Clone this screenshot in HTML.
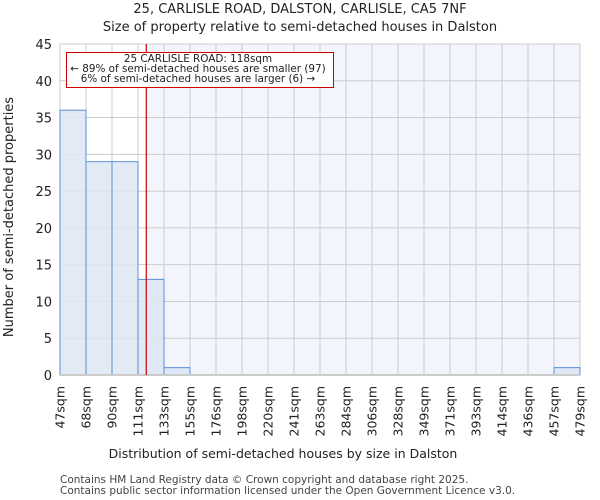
<!DOCTYPE html>
<html><head><meta charset="utf-8"><style>
body{margin:0;background:#fff;font-family:"DejaVu Sans","Liberation Sans",sans-serif}
svg{display:block}
</style></head><body>
<svg id="chart" width="600" height="500" xmlns="http://www.w3.org/2000/svg">
<text x="300" y="13" text-anchor="middle" font-size="13" fill="#222">25, CARLISLE ROAD, DALSTON, CARLISLE, CA5 7NF</text>
<text x="300" y="31" text-anchor="middle" font-size="13" fill="#222">Size of property relative to semi-detached houses in Dalston</text>
<g id="plot"></g>
<text x="283" y="458" text-anchor="middle" font-size="12.5" fill="#222">Distribution of semi-detached houses by size in Dalston</text>
<text transform="translate(13,217) rotate(-90)" text-anchor="middle" font-size="13" fill="#222">Number of semi-detached properties</text>
<text x="60" y="483" font-size="10.5" fill="#444">Contains HM Land Registry data © Crown copyright and database right 2025.</text>
<text x="60" y="494" font-size="10.5" fill="#444">Contains public sector information licensed under the Open Government Licence v3.0.</text>
</svg>
<script>
const binEdges=[47,68,90,111,133,155,176,198,220,241,263,284,306,328,349,371,393,414,436,457,479];
const counts=[36,29,29,13,1,0,0,0,0,0,0,0,0,0,0,0,0,0,0,1];
const yTicks=[0,5,10,15,20,25,30,35,40,45];
const subjectSize=118;
const NS="http://www.w3.org/2000/svg";
const g=document.getElementById('plot');
const L=60,R=580,T=44,B=375,YMAX=45;
const nb=counts.length;
function xIdx(i){return L+(R-L)*i/nb;}
function xVal(v){for(let i=0;i<binEdges.length-1;i++){if(v<=binEdges[i+1]){return xIdx(i)+(v-binEdges[i])/(binEdges[i+1]-binEdges[i])*(xIdx(i+1)-xIdx(i));}}return R;}
function y(v){return B-(B-T)*v/YMAX;}
function mk(t,a){const e=document.createElementNS(NS,t);for(const k in a)e.setAttribute(k,a[k]);g.appendChild(e);return e;}
const sx=xVal(subjectSize);
let e=mk('rect',{x:L,y:T,width:sx-L,height:B-T,fill:'#ffffff'});


e=mk('rect',{x:sx,y:T,width:R-sx,height:B-T,fill:'#f2f5fc'});


yTicks.forEach(t=>{
 let l=mk('line',{x1:L,x2:R,y1:y(t),y2:y(t),stroke:'#cccccc','stroke-width':1});
 
 
 let tx=mk('text',{x:L-8,y:y(t)+5,'text-anchor':'end','font-size':13,fill:'#222'});
 tx.textContent=t;
 
 
});
binEdges.forEach((b,i)=>{
 const xx=xIdx(i);
 let l=mk('line',{x1:xx,x2:xx,y1:T,y2:B,stroke:'#cccccc','stroke-width':1});
 
 
 let tx=mk('text',{transform:`translate(${xx+4.5},386) rotate(-90)`,'text-anchor':'end','font-size':12.5,fill:'#222'});
 tx.textContent=b+'sqm';
 
 
});
counts.forEach((c,i)=>{
 if(c<=0)return;
 let r=mk('rect',{x:xIdx(i),y:y(c),width:xIdx(i+1)-xIdx(i),height:B-y(c),fill:'#dce6f3','fill-opacity':0.85,stroke:'#5b8fd6','stroke-width':1});
 
 
});
e=mk('line',{x1:L,x2:R,y1:B,y2:B,stroke:'#cccccc','stroke-width':2});


e=mk('line',{x1:sx,x2:sx,y1:T,y2:B,stroke:'#cc0000','stroke-width':1.2});


e=mk('rect',{x:66.5,y:52.5,width:267,height:35,fill:'#fff',stroke:'#cc0000','stroke-width':1});


const lines=['25 CARLISLE ROAD: 118sqm','← 89% of semi-detached houses are smaller (97)','6% of semi-detached houses are larger (6) →'];
lines.forEach((s,i)=>{
 let tx=mk('text',{x:198,y:62+i*10,'text-anchor':'middle','font-size':10.4,fill:'#222'});
 tx.textContent=s;
 
 
});
</script>
</body></html>
